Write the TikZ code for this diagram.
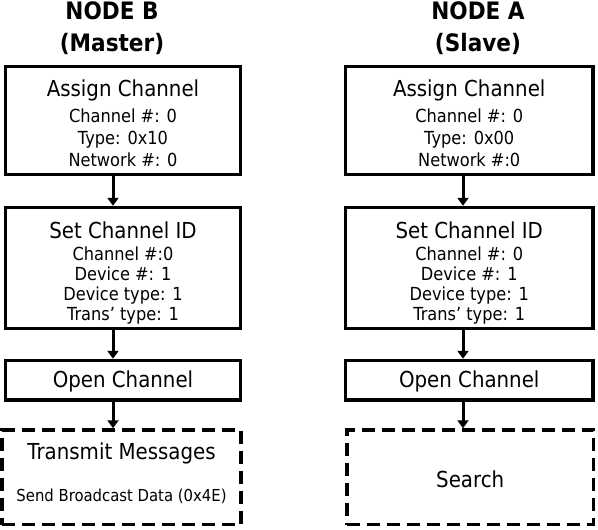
\documentclass[tikz,border=0pt]{standalone}
\usepackage{fontspec}
\setmainfont{DejaVu Sans}[FakeStretch=0.9]
\usetikzlibrary{arrows.meta,calc}

\newcommand{\headfont}{\fontsize{22}{24}\selectfont}
\newcommand{\subfont}{\fontsize{18}{22}\selectfont}
\newcommand{\idfont}{\fontsize{18}{20.3}\selectfont}
\newcommand{\titlefont}{\bfseries\fontsize{24}{32}\selectfont}

\tikzset{
	stepbox/.style={draw, line width=3.5pt, inner sep=0pt, align=center, font=\subfont},
	waitbox/.style={stepbox, dash pattern=on 13pt off 7pt},
	colhead/.style={align=center, font=\titlefont, inner sep=0pt},
	arr/.style={line width=3pt, -{Triangle[length=8pt,width=11pt]}}
}

\begin{document}
\begin{tikzpicture}[x=1pt, y=-1pt]
	\useasboundingbox (0,0) rectangle (598,530);
	\coordinate (axB) at (113,0);
	\coordinate (axA) at (463,0);
	\node[colhead] (headB) at (112,28) {NODE B\\(Master)};
	\node[colhead] (headA) at (478,28) {NODE A\\(Slave)};
	% master side
	\node[stepbox, minimum width=235pt, minimum height=108pt] (asgB) at (123,120.5)
		{{\headfont\rule{0pt}{21.7pt}Assign Channel}\\[3.7pt] Channel \#: 0\\ Type: 0x10\\ Network \#: 0};
	\node[stepbox, minimum width=235pt, minimum height=121pt, font=\idfont] (setB) at (123,268)
		{{\headfont\rule{0pt}{26.7pt}Set Channel ID}\\[1.7pt] Channel \#:0\\ Device \#: 1\\ Device type: 1\\ Trans’ type: 1};
	\node[stepbox, minimum width=235pt, minimum height=39.5pt, font=\headfont] (openB) at (123,380.25) {\rule{0pt}{20pt}Open Channel};
	\node[waitbox, minimum width=239pt, minimum height=94.5pt] (txB) at (121.5,477.25)
		{{\headfont Transmit Messages}\\[20pt] {\fontsize{16.5}{18}\selectfont Send Broadcast Data (0x4E)\rule[-10pt]{0pt}{10pt}}};
	% slave side
	\node[stepbox, minimum width=247.5pt, minimum height=108pt] (asgA) at (469.25,120.5)
		{{\headfont\rule{0pt}{21.7pt}Assign Channel}\\[3.7pt] Channel \#: 0\\ Type: 0x00\\ Network \#:0};
	\node[stepbox, minimum width=247.5pt, minimum height=121pt, font=\idfont] (setA) at (469.25,268)
		{{\headfont\rule{0pt}{26.7pt}Set Channel ID}\\[1.7pt] Channel \#: 0\\ Device \#: 1\\ Device type: 1\\ Trans’ type: 1};
	\node[stepbox, minimum width=247.5pt, minimum height=39.5pt, font=\headfont] (openA) at (469.25,380.25) {\rule{0pt}{20pt}Open Channel};
	\node[waitbox, minimum width=246.5pt, minimum height=94.5pt, font=\headfont] (srchA) at (470.25,477.25) {\rule{0pt}{20pt}Search};
	\path[arr]
	(asgB.south -| axB) edge (setB.north -| axB)
	(setB.south -| axB) edge (openB.north -| axB)
	(openB.south -| axB) edge (txB.north -| axB)
	(asgA.south -| axA) edge (setA.north -| axA)
	(setA.south -| axA) edge (openA.north -| axA)
	(openA.south -| axA) edge (srchA.north -| axA);
\end{tikzpicture}
\end{document}
